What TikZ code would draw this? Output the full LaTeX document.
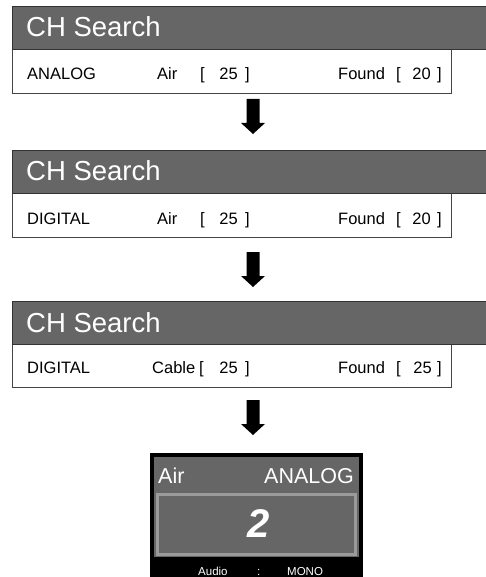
\documentclass[tikz,border=0pt]{standalone}
\usepackage{fontspec}
\setmainfont{Liberation Sans}
\definecolor{hdrgray}{HTML}{666666}
\definecolor{hdrline}{HTML}{333333}
\definecolor{boxline}{HTML}{444444}
\definecolor{rimgray}{HTML}{9A9A9A}
\tikzset{
  hdr/.style={draw=hdrline, fill=hdrgray, line width=1.2pt, anchor=north west,
    minimum width=490pt, minimum height=43pt, inner sep=0pt},
  lowbox/.style={draw=boxline, fill=white, line width=0.8pt, anchor=north west,
    minimum width=439pt, minimum height=44pt, inner sep=0pt},
  hdrtext/.style={anchor=base west, inner sep=0pt, text=white,
    font=\fontsize{27.5}{31}\selectfont},
  lowtext/.style={anchor=base west, inner sep=0pt, text=black,
    font=\fontsize{16.5}{20}\selectfont},
  lownum/.style={lowtext, anchor=base east},
  tvtext/.style={anchor=base west, inner sep=0pt, text=white,
    font=\fontsize{21.5}{25}\selectfont},
  audiotext/.style={anchor=base west, inner sep=0pt, text=white,
    font=\fontsize{11.5}{13}\selectfont},
  pics/downarrow/.style={code={
    \fill[black] (-6.5,0) -- (6.5,0) -- (6.5,24) -- (12,24) -- (0,35)
      -- (-12,24) -- (-6.5,24) -- cycle;}}
}
\begin{document}
\begin{tikzpicture}[x=1pt,y=-1pt]
\useasboundingbox (0,0) rectangle (486,577);
\clip (0,0) rectangle (486,577);

% ---------- Panel 1 ----------
\node[lowbox] (b1) at (12,49) {};
\node[hdr] (h1) at (12,6) {};
\node[hdrtext] (t1) at (26,37) {CH Search};
\node[lowtext] (m1) at (27,80) {ANALOG};
\node[lowtext] (s1) at (157,80) {Air};
\node[lowtext] (l1) at (200,80) {[};
\node[lownum] (n1) at (238,80) {25};
\node[lowtext] (r1) at (245,80) {]};
\node[lowtext] (f1) at (338,80) {Found};
\node[lowtext] (fl1) at (396,80) {[};
\node[lownum] (fn1) at (431,80) {20};
\node[lowtext] (fr1) at (437,80) {]};

% ---------- Panel 2 ----------
\node[lowbox] (b2) at (12,193) {};
\node[hdr] (h2) at (12,150) {};
\node[hdrtext] (t2) at (26,181) {CH Search};
\node[lowtext] (m2) at (27,224) {DIGITAL};
\node[lowtext] (s2) at (157,224) {Air};
\node[lowtext] (l2) at (200,224) {[};
\node[lownum] (n2) at (238,224) {25};
\node[lowtext] (r2) at (245,224) {]};
\node[lowtext] (f2) at (338,224) {Found};
\node[lowtext] (fl2) at (396,224) {[};
\node[lownum] (fn2) at (431,224) {20};
\node[lowtext] (fr2) at (437,224) {]};

% ---------- Panel 3 ----------
\node[lowbox] (b3) at (12,343) {};
\node[hdr] (h3) at (12,301) {};
\node[hdrtext] (t3) at (26,332) {CH Search};
\node[lowtext] (m3) at (27,373) {DIGITAL};
\node[lowtext] (s3) at (152,373) {Cable};
\node[lowtext] (l3) at (199,373) {[};
\node[lownum] (n3) at (238,373) {25};
\node[lowtext] (r3) at (245,373) {]};
\node[lowtext] (f3) at (338,373) {Found};
\node[lowtext] (fl3) at (396,373) {[};
\node[lownum] (fn3) at (432,373) {25};
\node[lowtext] (fr3) at (437,373) {]};

% ---------- Arrows ----------
\coordinate (a1) at (253,99);
\coordinate (a2) at (253,252);
\coordinate (a3) at (253,400);
\pic at (a1) {downarrow};
\pic at (a2) {downarrow};
\pic at (a3) {downarrow};

% ---------- TV screen ----------
\fill[black] (150,453) rectangle (363,578);
\fill[hdrgray] (154,457) rectangle (359,557);
\draw[rimgray, line width=2.6pt, fill=hdrgray] (157.3,494.3) rectangle (355.7,554.7);
\node[tvtext] (tvair) at (158,483) {Air};
\node[tvtext, anchor=base east] (tvmode) at (354,483) {ANALOG};
\node[anchor=center, inner sep=0pt, text=white,
  font=\fontsize{40}{44}\selectfont\bfseries\itshape] (tvch) at (259,524) {2};
\node[audiotext] (au) at (198,575.5) {Audio};
\node[audiotext] (co) at (257,575.5) {:};
\node[audiotext] (mo) at (287,575.5) {MONO};
\end{tikzpicture}
\end{document}
